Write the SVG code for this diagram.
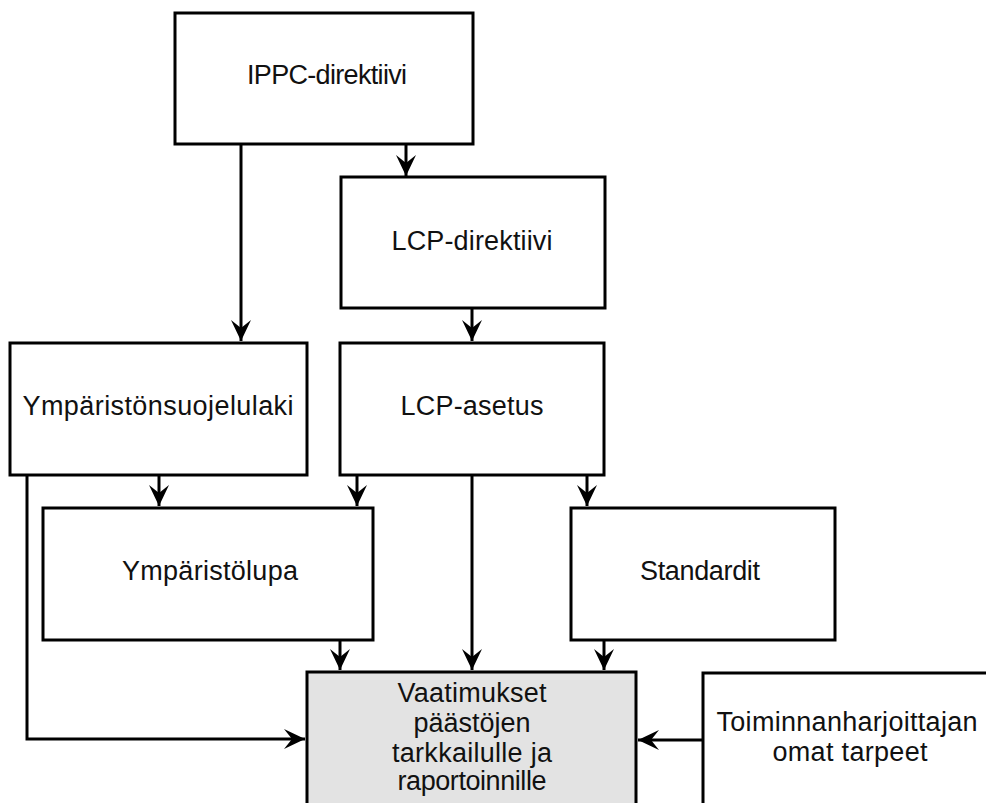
<svg xmlns="http://www.w3.org/2000/svg" width="986" height="803" viewBox="0 0 986 803">
<style>
.box{fill:#ffffff;stroke:#000;stroke-width:3}
.grey{fill:#e3e3e3;stroke:#000;stroke-width:3}
.t{font-family:"Liberation Sans",Arial,sans-serif;font-size:27px;fill:#111;text-anchor:middle}
.c{fill:none;stroke:#000;stroke-width:3;marker-end:url(#ah)}
</style>
<defs>
<marker id="ah" markerUnits="userSpaceOnUse" viewBox="-22 -11 23 22" refX="0" refY="0" markerWidth="23" markerHeight="22" orient="auto">
<path d="M0,0 L-21,-10 L-13,0 L-21,10 Z" fill="#000"/>
</marker>
</defs>
<g id="connectors">
<path class="c" d="M241,144 V341"/>
<path class="c" d="M406,144 V176"/>
<path class="c" d="M472,308 V341"/>
<path class="c" d="M159,475 V506"/>
<path class="c" d="M357,475 V506"/>
<path class="c" d="M472,475 V670"/>
<path class="c" d="M587,475 V506"/>
<path class="c" d="M340,640 V670"/>
<path class="c" d="M604,640 V670"/>
<path class="c" d="M27,475 V739 H305"/>
<path class="c" d="M703,740 H638"/>
</g>
<g id="ippc">
<rect class="box" x="175" y="13" width="298" height="131"/>
<text class="t" x="327" y="84" textLength="160">IPPC-direktiivi</text>
</g>
<g id="lcp-direktiivi">
<rect class="box" x="341" y="177" width="264" height="131"/>
<text class="t" x="472" y="250" textLength="161">LCP-direktiivi</text>
</g>
<g id="ymparistonsuojelulaki">
<rect class="box" x="10" y="343" width="297" height="132"/>
<text class="t" x="158" y="415" textLength="271">Ympäristönsuojelulaki</text>
</g>
<g id="lcp-asetus">
<rect class="box" x="340" y="343" width="264" height="132"/>
<text class="t" x="472" y="415" textLength="143">LCP-asetus</text>
</g>
<g id="ymparistolupa">
<rect class="box" x="43" y="508" width="330" height="132"/>
<text class="t" x="210" y="580" textLength="176">Ympäristölupa</text>
</g>
<g id="standardit">
<rect class="box" x="571" y="508" width="264" height="132"/>
<text class="t" x="700" y="580" textLength="120">Standardit</text>
</g>
<g id="vaatimukset">
<rect class="grey" x="307" y="672" width="329" height="200"/>
<text class="t" x="472" y="702" textLength="149">Vaatimukset</text>
<text class="t" x="472" y="732" textLength="117">päästöjen</text>
<text class="t" x="472" y="762" textLength="160">tarkkailulle ja</text>
<text class="t" x="472" y="790" textLength="149">raportoinnille</text>
</g>
<g id="toiminnanharjoittaja">
<rect class="box" x="703" y="673" width="320" height="200"/>
<text class="t" x="847" y="731" textLength="261">Toiminnanharjoittajan</text>
<text class="t" x="850" y="761" textLength="155">omat tarpeet</text>
</g>
</svg>
